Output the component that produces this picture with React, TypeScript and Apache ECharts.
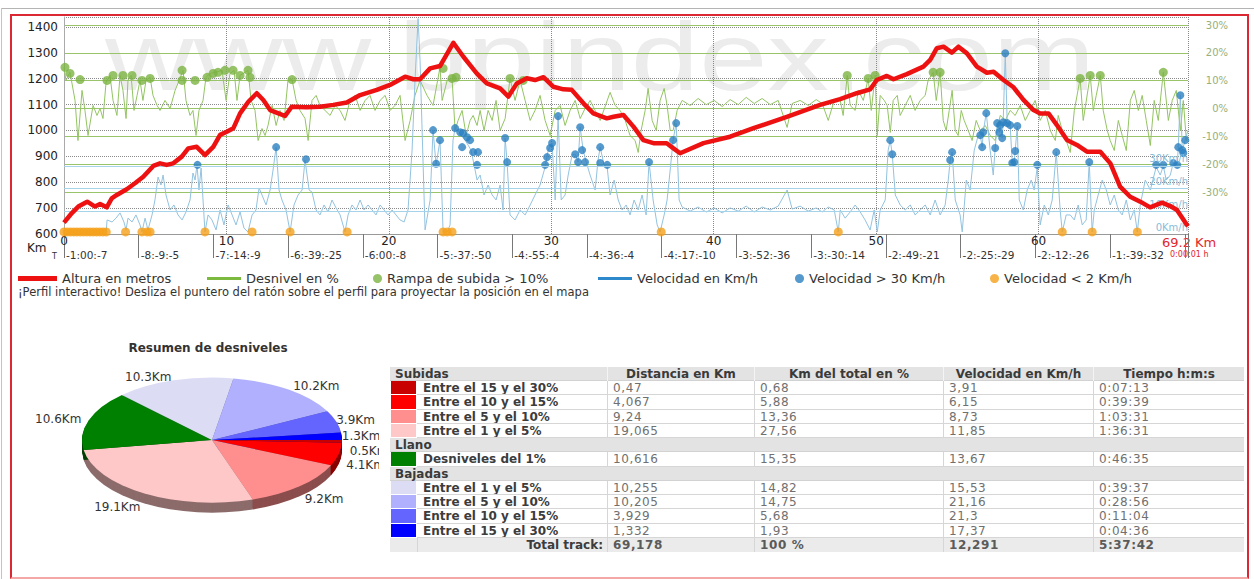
import React, { useEffect, useRef } from 'react';
import * as echarts from 'echarts';

const FONT = "'DejaVu Sans', Verdana, sans-serif";

// ---------------- profile data ----------------
// elevation [km, m]
const altitude: [number, number][] = [
  [0, 644], [0.47, 680], [0.88, 706], [1.43, 725], [1.91, 706], [2.22, 716], [2.63, 703], [2.94, 738], [3.25, 751],
  [3.86, 773], [4.37, 796], [4.88, 821], [5.5, 863], [5.91, 873], [6.32, 867], [6.73, 873], [7.25, 899], [7.65, 931],
  [8.17, 937], [8.68, 905], [9.19, 937], [9.61, 983], [10.02, 995], [10.43, 1009], [10.84, 1066], [11.35, 1111],
  [11.87, 1144], [12.27, 1118], [12.69, 1079], [13.2, 1066], [13.61, 1056], [14.02, 1092], [14.94, 1090], [15.76, 1092],
  [16.58, 1099], [17.41, 1108], [18.23, 1137], [19.26, 1157], [20.07, 1176], [21.0, 1208], [21.51, 1198], [21.92, 1198],
  [22.54, 1240], [23.15, 1249], [23.97, 1339], [24.59, 1285], [25.41, 1221], [26.03, 1182], [26.85, 1163], [27.36, 1131],
  [27.88, 1182], [28.49, 1202], [29.0, 1195], [29.52, 1206], [30.13, 1169], [30.75, 1159], [31.26, 1157], [31.98, 1105],
  [32.59, 1066], [33.42, 1047], [33.83, 1053], [34.44, 1060], [35.06, 1015], [35.67, 963], [36.29, 951], [37.11, 951],
  [37.52, 931], [37.93, 912], [39.37, 951], [41.01, 976], [42.45, 1009], [44.5, 1053], [46.55, 1099], [47.78, 1121],
  [48.81, 1144], [49.63, 1159], [50.04, 1195], [50.66, 1211], [51.07, 1198], [51.89, 1218], [52.91, 1247], [53.33, 1273],
  [53.74, 1318], [54.15, 1324], [54.66, 1301], [55.07, 1324], [55.59, 1298], [56.2, 1247], [56.82, 1223], [57.23, 1227],
  [57.84, 1195], [58.46, 1167], [59.07, 1118], [59.69, 1079], [60.1, 1066], [60.61, 1066], [61.13, 1021], [61.75, 963],
  [62.36, 944], [62.98, 918], [63.8, 918], [64.42, 873], [65.02, 783], [65.64, 744], [66.26, 725], [66.87, 703],
  [67.6, 721], [68.11, 708], [68.52, 693], [69.14, 635], [69.2, 630],
];

// grade [km, %]
const grade: [number, number][] = [
  [0, 14.8], [0.12, 10.1], [0.37, 13.0], [0.68, 2.9], [0.86, -11.5], [1.11, 6.5], [1.29, -0.7], [1.48, -9.7], [1.79, 1.1],
  [2.03, -2.5], [2.22, 0], [2.4, -3.6], [2.59, 9.4], [2.83, 11.9], [3.02, 2.9], [3.26, -2.5], [3.45, 11.9], [3.63, 6.5],
  [3.82, -3.6], [3.94, 10.1], [4.13, 11.9], [4.31, -0.7], [4.5, 4.7], [4.68, 10.1], [4.86, 2.9], [5.05, 10.1], [5.3, 11.2],
  [5.48, 4.7], [5.73, 1.1], [5.91, -0.7], [6.22, 2.9], [6.53, 0], [6.84, 6.5], [7.14, 10.8], [7.33, 13.7], [7.51, 2.9],
  [7.76, -2.5], [7.94, -0.7], [8.13, -9.7], [8.31, -0.7], [8.56, 2.9], [8.74, 11.2], [8.99, 12.6], [9.3, 13.0], [9.73, 13.7],
  [9.98, 2.9], [10.22, 12.6], [10.47, 13.7], [10.65, 2.9], [10.84, 11.9], [11.15, 13.0], [11.33, 13.7], [11.52, 2.9],
  [11.76, -0.7], [11.95, -11.5], [12.19, -7.2], [12.38, -9.7], [12.56, -6.1], [12.81, 1.1], [13.06, -6.1], [13.3, -0.7],
  [13.55, -4.3], [13.79, 10.1], [14.04, 10.4], [14.29, 2.9], [14.53, -0.7], [14.84, -3.6], [15.03, -11.5], [15.27, 2.9],
  [15.52, 4.7], [15.76, 1.1], [16.07, -0.7], [16.38, -2.5], [16.69, 1.1], [17.0, -0.7], [17.3, -4.3], [17.61, 2.9],
  [17.92, 4.7], [18.23, -0.7], [18.54, 2.9], [18.84, 4.7], [19.15, -0.7], [19.46, 2.9], [19.77, 4.7], [20.08, -0.7],
  [20.38, 1.1], [20.69, 4.7], [21.0, -11.5], [21.31, -4.3], [21.61, 4.7], [21.92, 10.1], [22.35, 4.7], [22.72, 1.1],
  [23.15, 14.8], [23.28, 2.9], [23.59, 10.1], [23.89, 10.8], [24.08, -7.9], [24.26, -4.3], [24.51, -0.7], [24.76, -9.7],
  [25.0, -4.3], [25.19, -2.5], [25.43, -6.1], [25.62, -0.7], [25.86, -7.9], [26.11, -0.7], [26.36, -4.3], [26.6, 2.9],
  [26.85, -7.9], [27.16, -3.6], [27.46, 10.8], [27.77, 2.9], [28.08, 10.1], [28.39, 2.9], [28.7, -4.3], [29.0, -0.7],
  [29.31, 4.7], [29.62, -4.3], [29.93, -9.7], [30.24, -0.7], [30.54, 1.1], [30.85, -6.1], [31.16, -0.7], [31.47, 2.9],
  [31.78, -3.6], [32.08, 0], [32.39, 2.9], [32.7, -0.7], [33.01, -4.3], [33.62, 5.8], [33.93, 1.1], [34.24, -0.7],
  [34.55, -4.3], [34.85, -9.7], [35.16, -11.5], [35.35, -15.8], [35.53, -7.9], [35.78, -0.7], [35.96, 7.2], [36.21, -4.3],
  [36.46, -7.9], [36.7, 2.9], [36.95, 7.2], [37.13, 1.1], [37.32, -7.9], [37.5, -7.9], [37.75, -0.7], [38.06, 2.9],
  [38.55, 1.1], [39.04, 3.6], [39.54, 1.4], [40.03, 2.9], [40.52, 0.7], [41.01, 3.2], [41.51, 1.4], [42.0, 4.0],
  [42.49, 1.8], [42.98, 3.6], [43.48, 1.4], [43.97, 2.9], [44.52, -6.8], [44.83, 1.8], [45.32, 2.9], [45.82, 1.1],
  [46.31, 3.2], [46.68, 1.8], [47.05, -4.3], [47.42, 2.9], [47.79, 2.9], [47.97, -2.5], [48.22, 11.9], [48.4, 1.1],
  [48.71, -0.7], [48.9, 6.5], [49.21, 2.9], [49.51, 10.8], [49.7, -0.7], [49.94, 11.9], [50.07, -9.7], [50.25, 4.7],
  [50.5, 2.9], [50.68, 1.1], [50.87, -8.6], [51.05, 2.9], [51.3, 4.7], [51.48, -2.5], [51.79, 1.1], [52.1, 4.7],
  [52.4, -0.7], [52.71, 2.9], [53.02, 4.7], [53.2, 10.1], [53.51, 13.0], [53.7, 2.9], [53.94, 13.0], [54.13, -4.3],
  [54.31, -7.9], [54.5, -0.7], [54.68, 6.5], [54.87, -7.9], [55.05, -9.7], [55.24, -0.7], [55.42, -4.3], [55.67, -7.9],
  [55.91, -11.5], [56.16, -4.3], [56.41, -7.9], [56.72, -6.1], [57.02, -9.7], [57.33, -11.5], [57.64, -2.5], [57.95, -4.3],
  [58.25, -0.7], [58.56, -2.5], [58.87, 1.1], [59.18, -4.3], [59.49, -0.7], [59.79, 2.9], [60.1, -4.3], [60.41, -0.7],
  [60.72, -7.9], [61.03, -11.5], [61.21, -2.5], [61.46, -7.9], [61.7, -11.5], [61.95, -15.8], [62.2, -0.7], [62.56, 10.8],
  [62.75, -4.3], [63.18, 11.9], [63.37, -0.7], [63.55, 4.7], [63.8, 11.9], [63.98, -0.7], [64.23, -7.9], [64.41, -11.5],
  [64.66, -15.1], [64.91, -4.3], [65.15, -9.7], [65.4, -15.1], [65.65, 2.9], [65.89, 6.5], [66.14, -0.7], [66.38, 4.7],
  [66.63, -4.3], [66.88, -13.3], [67.12, 2.9], [67.37, -4.3], [67.68, 13.0], [67.99, -4.3], [68.23, 2.9], [68.48, 6.5],
  [68.73, -7.9], [68.91, 2.9], [69.1, -11.5], [69.2, -9.7],
];

// ramps steeper than 10% [km, %]
const steepRamps: [number, number][] = [
  [0.06, 14.8], [0.37, 12.6], [0.99, 10.4], [2.65, 10.1], [3.02, 11.9], [3.63, 11.9], [4.19, 11.9], [4.8, 10.1], [5.3, 10.8],
  [7.27, 13.7], [7.27, 10.1], [8.07, 10.1], [8.81, 11.2], [9.18, 12.6], [9.48, 13.0], [9.91, 13.7], [10.41, 13.7],
  [10.84, 11.9], [11.33, 13.7], [11.45, 11.2], [14.04, 10.4], [23.34, 14.4], [23.89, 10.8], [24.14, 11.2], [27.46, 10.8],
  [28.27, 10.1], [48.22, 11.9], [49.51, 10.8], [49.94, 11.9], [53.51, 13.0], [53.94, 13.0], [62.56, 10.8], [63.18, 11.9],
  [63.8, 11.9], [67.68, 13.0],
];

// speed [km, km/h]
const speed: [number, number][] = [
  [0, 0], [2.59, 0], [2.65, 6.2], [2.96, 5.3], [3.2, 7.0], [3.45, 9.3], [3.69, 5.3], [3.82, 1.8], [3.94, 7.0], [4.19, 5.3],
  [4.43, 8.4], [4.68, 4.0], [4.8, 0.9], [4.99, 7.0], [5.17, 1.8], [5.42, 8.4], [5.6, 15.0], [5.79, 25.1], [5.97, 21.6],
  [6.1, 26.0], [6.28, 17.2], [6.53, 10.6], [6.77, 12.8], [7.02, 8.4], [7.27, 6.2], [7.51, 9.7], [7.76, 15.0], [7.94, 26.9],
  [8.07, 23.8], [8.19, 30.5], [8.31, 19.4], [8.44, 29.1], [8.56, 15.0], [8.68, 0.9], [8.87, 8.4], [9.11, 6.2], [9.36, 1.8],
  [9.61, 10.6], [9.85, 4.0], [10.1, 12.8], [10.35, 8.4], [10.59, 4.0], [10.84, 9.7], [11.08, 2.6], [11.33, 0.9], [11.58, 8.4],
  [11.82, 10.6], [12.01, 20.3], [12.19, 17.2], [12.44, 12.8], [12.69, 19.4], [12.87, 28.2], [13.06, 38.3], [13.24, 19.4],
  [13.42, 15.0], [13.67, 10.6], [13.92, 0.9], [14.16, 12.8], [14.41, 17.2], [14.66, 19.4], [14.84, 32.6], [15.09, 19.4],
  [15.27, 18.5], [15.52, 10.6], [15.76, 8.4], [16.01, 12.8], [16.26, 9.7], [16.5, 15.0], [16.75, 11.5], [17.0, 8.4],
  [17.3, 0.9], [17.49, 8.4], [17.73, 12.8], [17.98, 10.6], [18.23, 15.0], [18.47, 10.6], [18.72, 12.8], [18.97, 10.6],
  [19.21, 8.4], [19.46, 12.8], [19.71, 10.6], [19.95, 8.4], [20.2, 10.6], [20.44, 8.4], [20.69, 6.2], [20.94, 5.3],
  [21.18, 10.6], [21.43, 37.0], [21.61, 67.8], [21.8, 95.0], [21.92, 76.6], [22.23, 1.8], [22.54, 15.0], [22.72, 45.8],
  [22.91, 30.4], [23.15, 41.4], [23.34, 0.9], [23.59, 0.9], [23.77, 4.0], [23.95, 41.4], [24.08, 46.7], [24.26, 45.8],
  [24.45, 43.6], [24.69, 41.4], [24.88, 39.2], [25.06, 37.0], [25.25, 30.4], [25.43, 23.8], [25.62, 26.0], [25.86, 17.2],
  [26.11, 21.6], [26.36, 17.2], [26.6, 15.0], [26.85, 21.6], [27.03, 10.6], [27.16, 42.3], [27.28, 31.7], [27.46, 8.4],
  [27.77, 6.2], [28.08, 10.6], [28.39, 8.4], [28.7, 12.8], [29.0, 17.2], [29.31, 21.6], [29.62, 29.5], [29.81, 37.0],
  [30.05, 40.1], [30.24, 15.0], [30.42, 52.0], [30.61, 15.0], [30.85, 17.2], [31.04, 26.0], [31.28, 34.8], [31.47, 35.2],
  [31.65, 31.7], [31.78, 47.1], [31.96, 37.0], [32.15, 31.7], [32.39, 26.0], [32.7, 19.4], [32.88, 32.6], [33.01, 38.3],
  [33.25, 30.4], [33.44, 29.5], [33.62, 17.2], [33.87, 23.8], [34.12, 15.0], [34.36, 10.6], [34.61, 12.8], [34.85, 8.4],
  [35.1, 15.0], [35.35, 10.6], [35.59, 17.2], [35.84, 8.4], [36.02, 31.7], [36.27, 15.0], [36.52, 4.0], [36.7, 0.9],
  [36.95, 8.4], [37.13, 15.0], [37.32, 28.2], [37.5, 41.4], [37.69, 48.9], [37.87, 15.0], [38.06, 11.9], [38.55, 10.1],
  [39.04, 11.9], [39.54, 9.7], [40.03, 11.5], [40.52, 9.3], [41.01, 11.5], [41.51, 10.1], [42.0, 12.3], [42.49, 9.7],
  [42.98, 11.9], [43.48, 10.6], [43.97, 12.3], [44.52, 19.4], [44.83, 11.0], [45.32, 12.3], [45.82, 10.1], [46.31, 11.5],
  [46.68, 9.7], [47.05, 11.9], [47.42, 10.6], [47.67, 0.9], [47.79, 10.6], [48.09, 7.0], [48.4, 9.7], [48.71, 12.8],
  [49.02, 9.7], [49.32, 6.2], [49.63, 1.8], [49.88, 10.6], [50.07, 0.9], [50.25, 10.6], [50.56, 15.0], [50.74, 37.0],
  [50.87, 41.4], [50.99, 35.2], [51.18, 17.2], [51.48, 12.8], [51.79, 10.6], [52.1, 12.8], [52.4, 8.4], [52.71, 10.6],
  [53.02, 12.8], [53.33, 8.4], [53.63, 15.0], [53.94, 8.4], [54.25, 12.8], [54.44, 23.8], [54.56, 32.6], [54.68, 36.1],
  [54.87, 15.0], [55.17, 8.4], [55.3, 0.9], [55.55, 23.8], [55.79, 19.4], [56.04, 37.0], [56.29, 43.6], [56.41, 43.6],
  [56.53, 38.3], [56.59, 44.9], [56.78, 53.3], [57.02, 37.0], [57.21, 26.0], [57.33, 37.9], [57.45, 48.9], [57.58, 44.9],
  [57.64, 48.0], [57.76, 42.3], [57.82, 49.3], [57.95, 79.7], [58.07, 48.9], [58.25, 48.0], [58.38, 31.3], [58.5, 31.7],
  [58.56, 36.6], [58.69, 47.6], [58.81, 15.0], [59.06, 10.6], [59.3, 19.4], [59.55, 23.8], [59.73, 19.4], [59.92, 29.5],
  [60.1, 4.0], [60.35, 12.8], [60.6, 8.4], [60.84, 15.0], [61.09, 36.1], [61.33, 10.6], [61.46, 0.9], [61.7, 8.4],
  [61.95, 8.4], [62.2, 6.2], [62.44, 12.8], [62.69, 4.0], [62.93, 6.2], [63.12, 31.7], [63.3, 0.9], [63.43, 10.6],
  [63.67, 17.2], [63.92, 23.8], [64.17, 19.4], [64.41, 12.8], [64.66, 17.2], [64.91, 10.6], [65.15, 8.4], [65.4, 15.0],
  [65.65, 6.2], [65.89, 10.6], [66.08, 0.9], [66.26, 12.8], [66.57, 23.8], [66.88, 19.4], [67.24, 29.5], [67.49, 26.0],
  [67.68, 30.0], [67.86, 23.8], [68.11, 26.0], [68.29, 31.3], [68.54, 30.4], [68.6, 38.3], [68.73, 61.2], [68.85, 37.0],
  [69.03, 41.4], [69.2, 45.8],
];

// speed above 30 km/h [km, km/h]
const fastPoints: [number, number][] = [
  [8.22, 30.5], [13.06, 38.3], [14.9, 33.0], [22.72, 45.8], [22.91, 31.0], [23.15, 41.4], [24.08, 46.7], [24.39, 44.9],
  [24.57, 44.5], [24.82, 42.7], [25.0, 41.4], [24.51, 38.3], [25.19, 36.1], [25.49, 36.1], [25.43, 30.5], [27.16, 42.3],
  [27.28, 31.7], [29.62, 30.5], [29.74, 33.9], [29.93, 37.9], [30.05, 40.1], [30.42, 52.0], [31.47, 35.2], [31.65, 31.7],
  [31.78, 47.1], [31.9, 37.0], [32.08, 31.7], [33.01, 38.3], [33.01, 31.3], [33.44, 30.5], [36.02, 31.7], [37.5, 41.4],
  [37.69, 48.9], [50.87, 41.4], [50.99, 35.2], [54.56, 32.6], [54.68, 36.1], [56.41, 43.6], [56.53, 38.3], [56.59, 44.9],
  [56.78, 53.3], [57.33, 37.9], [57.45, 48.9], [57.58, 44.9], [57.64, 48.0], [57.76, 42.3], [57.82, 49.3], [57.95, 79.7],
  [58.07, 48.9], [58.25, 48.0], [58.38, 31.3], [58.5, 31.7], [58.56, 36.6], [58.69, 47.6], [59.92, 30.5], [61.09, 36.1],
  [63.12, 31.7], [67.24, 30.5], [67.68, 30.5], [68.29, 31.3], [68.54, 30.5], [68.6, 38.3], [68.73, 61.2], [68.85, 37.0],
  [68.91, 35.7], [69.03, 41.4],
];

// speed below 2 km/h [km, km/h]
const slowPoints: [number, number][] = [
  [0, 0.9], [0.2, 0.9], [0.4, 0.9], [0.6, 0.9], [0.8, 0.9], [1.0, 0.9], [1.2, 0.9], [1.4, 0.9], [1.6, 0.9], [1.8, 0.9],
  [2.0, 0.9], [2.2, 0.9], [2.4, 0.9], [2.6, 0.9], [3.79, 0.9], [4.8, 0.9], [5.11, 0.9], [5.3, 0.9], [8.68, 0.9],
  [11.58, 0.9], [13.92, 0.9], [17.43, 0.9], [23.34, 0.9], [23.59, 0.9], [23.89, 0.9], [36.77, 0.9], [47.67, 0.9],
  [61.46, 0.9], [63.3, 0.9], [66.08, 0.9],
];

// time labels under the distance axis
const timeLabels = [
  '-1:00:-7', '-8:-9:-5', '-7:-14:-9', '-6:-39:-25', '-6:00:-8', '-5:-37:-50', '-4:-55:-4', '-4:-36:-4',
  '-4:-17:-10', '-3:-52:-36', '-3:-30:-14', '-2:-49:-21', '-2:-25:-29', '-2:-12:-26', '-1:-39:-32',
];
const trackLength = 69.2;

// ---------------- summary data ----------------
const climbRanges = ['Entre el 15 y el 30%', 'Entre el 10 y el 15%', 'Entre el 5 y el 10%', 'Entre el 1 y el 5%'];
const climbKm = [0.47, 4.067, 9.24, 19.065];
const climbPct = [0.68, 5.88, 13.36, 27.56];
const climbSpeed = [3.91, 6.15, 8.73, 11.85];
const climbTime = ['0:07:13', '0:39:39', '1:03:31', '1:36:31'];

const flatLabel = 'Desniveles del 1%';
const flatKm = 10.616;
const flatPct = 15.35;
const flatSpeed = 13.67;
const flatTime = '0:46:35';

const descentRanges = ['Entre el 1 y el 5%', 'Entre el 5 y el 10%', 'Entre el 10 y el 15%', 'Entre el 15 y el 30%'];
const descentKm = [10.255, 10.205, 3.929, 1.332];
const descentPct = [14.82, 14.75, 5.68, 1.93];
const descentSpeed = [15.53, 21.16, 21.3, 17.37];
const descentTime = ['0:39:37', '0:28:56', '0:11:04', '0:04:36'];

const totalKm = 69.178;
const totalPct = '100 %';
const totalSpeed = 12.291;
const totalTime = '5:37:42';

// colours (style)
const climbColors = ['#c80000', '#ff0000', '#ff8f8f', '#ffc8c8'];
const flatColor = '#008000';
const descentColors = ['#dcdcf5', '#b0b0ff', '#6464ff', '#0000ff'];
const rimColors = ['#6e0000', '#8a0000', '#8c4d4d', '#8c6b6b', '#004000', '#74748a', '#5c5c90', '#34348a', '#00007a'];

function buildOption(): any {
  const pieKm = [...climbKm, flatKm, ...descentKm];
  const pieColors = [...climbColors, flatColor, ...descentColors];
  const pieTotal = pieKm.reduce((s, v) => s + v, 0);
  const pieStart: number[] = [];
  pieKm.reduce((acc, v) => {
    pieStart.push(acc);
    return acc + v;
  }, 0);
  const P = { cx: 212, cy: 440, rx: 130, ry: 62.5, depth: 10 };
  const sy = P.ry / P.rx;
  const TAU = Math.PI * 2;
  const sector = (a0: number, a1: number, dy: number, fill: string) => ({
    type: 'sector',
    x: 0,
    y: P.cy * (1 - sy) + dy,
    scaleY: sy,
    shape: { cx: P.cx, cy: P.cy, r: P.rx, r0: 0, startAngle: a0, endAngle: a1, clockwise: true },
    style: { fill },
  });

  const legendItem = (left: number, name: string, icon: string, w: number, h: number, color: string) => ({
    left,
    top: 272,
    padding: 0,
    itemGap: 0,
    itemWidth: w,
    itemHeight: h,
    selectedMode: false,
    data: [{ name, icon, itemStyle: { color }, lineStyle: { color, width: 0 } }],
    textStyle: { fontSize: 13, color: '#333', fontFamily: FONT },
  });

  return {
    animation: false,
    textStyle: { fontFamily: FONT },
    legend: [
      legendItem(18, 'Altura en metros', 'rect', 39, 5, '#ee1111'),
      legendItem(207, 'Desnivel en %', 'rect', 34, 3, '#7cba3f'),
      legendItem(373, 'Rampa de subida > 10%', 'circle', 9, 9, '#7cb342'),
      legendItem(598, 'Velocidad en Km/h', 'rect', 34, 3, '#2d88cc'),
      legendItem(795, 'Velocidad > 30 Km/h', 'circle', 9, 9, '#2a7fc0'),
      legendItem(990, 'Velocidad < 2 Km/h', 'circle', 9, 9, '#f5a01a'),
    ],
    grid: [
      { left: 64, right: 66, top: 17, bottom: 345, outerBoundsMode: 'none' },
      { left: 64, right: 66, top: 25, bottom: 387, outerBoundsMode: 'none' },
    ],
    xAxis: [
      {
        gridIndex: 0,
        type: 'value',
        min: 0,
        max: trackLength,
        interval: 10,
        axisLine: { show: true, onZero: false, lineStyle: { color: '#999' } },
        axisTick: { show: false },
        axisLabel: { color: '#222', fontSize: 12, margin: 1, showMaxLabel: false, fontFamily: FONT },
        splitLine: { show: true, lineStyle: { color: '#888', type: 'dotted' } },
      },
      {
        gridIndex: 0,
        type: 'value',
        position: 'bottom',
        min: 0,
        max: trackLength,
        interval: 4.6,
        axisLine: { show: false, onZero: false },
        axisTick: { show: true, length: 24, lineStyle: { color: '#777' } },
        axisLabel: {
          formatter: (_v: number, i: number) => timeLabels[i] ?? '',
          align: 'left',
          margin: 15,
          fontSize: 10.5,
          color: '#333',
          fontFamily: FONT,
          padding: [0, 0, 0, 2],
        },
        splitLine: { show: false },
      },
      { gridIndex: 1, type: 'value', min: 0, max: trackLength, show: false, axisLine: { onZero: false } },
    ],
    yAxis: [
      {
        gridIndex: 0,
        type: 'value',
        position: 'left',
        min: 600,
        max: 1438.6,
        interval: 100,
        axisLine: { show: true, onZero: false, lineStyle: { color: '#aaa' } },
        axisTick: { show: false },
        axisLabel: {
          color: '#222',
          fontSize: 12,
          margin: 6,
          showMaxLabel: false,
          fontFamily: FONT,
          formatter: (v: number) => String(v),
        },
        splitLine: { show: true, lineStyle: { color: '#8a8a8a', type: 'dotted' } },
      },
      {
        gridIndex: 0,
        type: 'value',
        position: 'right',
        z: 4,
        min: 0,
        max: 95.7,
        interval: 10,
        axisLine: { show: false, onZero: false },
        axisTick: { show: false },
        splitLine: { show: false },
        axisLabel: {
          inside: true,
          margin: 0,
          formatter: (v: number) => (v <= 30 ? `${v}Km/h` : ''),
          color: '#86bddb',
          fontSize: 10,
          verticalAlign: 'bottom',
          padding: [0, 0, 2, 0],
          fontFamily: FONT,
        },
      },
      {
        gridIndex: 1,
        type: 'value',
        position: 'right',
        min: -30,
        max: 30,
        interval: 10,
        axisLine: { show: false, onZero: false },
        axisTick: { show: false },
        splitLine: { show: true, lineStyle: { color: '#9ac46a', width: 1 } },
        axisLabel: { formatter: '{value}%', color: '#98b07a', fontSize: 10, margin: 40, align: 'right', fontFamily: FONT },
      },
    ],
    graphic: {
      elements: [
        {
          type: 'text',
          x: 105,
          y: 56,
          scaleX: 1.28,
          z: -10,
          silent: true,
          style: {
            text: 'www.bpindex.com',
            fontSize: 96,
            fontFamily: "'Liberation Sans', Arial, sans-serif",
            fill: '#ececec',
            verticalAlign: 'middle',
          },
        },
        { type: 'text', x: 27, y: 248, style: { text: 'Km', fontSize: 12, fontFamily: FONT, fill: '#222', verticalAlign: 'middle' } },
        { type: 'text', x: 52, y: 256, style: { text: 'T', fontSize: 8, fontFamily: FONT, fill: '#333', verticalAlign: 'middle' } },
        { type: 'text', x: 1162, y: 242, style: { text: '69.2 Km', fontSize: 13, fontFamily: FONT, fill: '#e3262d', verticalAlign: 'middle' } },
        { type: 'text', x: 1170, y: 254, style: { text: '0:00:01 h', fontSize: 8, fontFamily: FONT, fill: '#e3262d', verticalAlign: 'middle' } },
        {
          type: 'text',
          x: 18,
          y: 292,
          style: {
            text: '¡Perfil interactivo! Desliza el puntero del ratón sobre el perfil para proyectar la posición en el mapa',
            fontSize: 11.5,
            fontFamily: FONT,
            fill: '#333',
            verticalAlign: 'middle',
          },
        },
        {
          type: 'text',
          x: 208,
          y: 348,
          style: {
            text: 'Resumen de desniveles',
            fontSize: 12,
            fontWeight: 'bold',
            fontFamily: FONT,
            fill: '#333',
            align: 'center',
            verticalAlign: 'middle',
          },
        },
      ],
    },
    series: [
      {
        name: 'Desnivel en %',
        type: 'line',
        xAxisIndex: 2,
        yAxisIndex: 2,
        data: grade,
        symbol: 'none',
        lineStyle: { width: 1, color: '#93c462' },
        itemStyle: { color: '#7cba3f' },
        z: 1,
        silent: true,
      },
      {
        name: 'Velocidad en Km/h',
        type: 'line',
        xAxisIndex: 0,
        yAxisIndex: 1,
        data: speed,
        symbol: 'none',
        clip: false,
        lineStyle: { width: 1, color: '#93c3e0' },
        itemStyle: { color: '#2d88cc' },
        z: 1,
        silent: true,
        markLine: {
          silent: true,
          symbol: ['none', 'none'],
          label: { show: false },
          lineStyle: { color: '#a6d3ea', type: 'solid', width: 1 },
          data: [{ yAxis: 10 }, { yAxis: 20 }, { yAxis: 30 }],
        },
      },
      {
        name: 'Rampa de subida > 10%',
        type: 'scatter',
        xAxisIndex: 2,
        yAxisIndex: 2,
        data: steepRamps,
        symbolSize: 9,
        itemStyle: { color: '#7cb342' },
        z: 3,
      },
      {
        name: 'Velocidad > 30 Km/h',
        type: 'scatter',
        xAxisIndex: 0,
        yAxisIndex: 1,
        data: fastPoints,
        symbolSize: 8,
        itemStyle: { color: '#2a7fc0' },
        z: 3,
      },
      {
        name: 'Velocidad < 2 Km/h',
        type: 'scatter',
        xAxisIndex: 0,
        yAxisIndex: 1,
        data: slowPoints,
        symbolSize: 9,
        itemStyle: { color: '#f5a01a' },
        z: 3,
      },
      {
        name: 'Altura en metros',
        type: 'line',
        xAxisIndex: 0,
        yAxisIndex: 0,
        data: altitude,
        symbol: 'none',
        lineStyle: { width: 4.5, color: '#ee1111', join: 'round' },
        itemStyle: { color: '#ee1111' },
        z: 5,
        silent: true,
      },
      {
        name: 'pieRim',
        type: 'custom',
        coordinateSystem: 'none',
        silent: true,
        z: 1,
        data: pieKm.map((v) => [v]),
        renderItem: (params: any, api: any) => {
          const i = params.dataIndex;
          const a0 = (pieStart[i] / pieTotal) * TAU;
          const a1 = a0 + (api.value(0) / pieTotal) * TAU;
          const children: any[] = [];
          for (let d = P.depth; d >= 1; d -= 1) children.push(sector(a0, a1, d, rimColors[i]));
          return { type: 'group', children };
        },
      },
      {
        name: 'pieTop',
        type: 'custom',
        coordinateSystem: 'none',
        silent: true,
        z: 2,
        data: pieKm.map((v) => [v]),
        renderItem: (params: any, api: any) => {
          const i = params.dataIndex;
          const v = api.value(0);
          const a0 = (pieStart[i] / pieTotal) * TAU;
          const a1 = a0 + (v / pieTotal) * TAU;
          const mid = (a0 + a1) / 2;
          const c = Math.cos(mid);
          const s = Math.sin(mid);
          const k = s < 0 && c > 0.8 ? 1.0 : 1.06;
          const lx = P.cx + P.rx * k * c;
          const ly = P.cy + P.ry * 1.06 * s + (s > 0 ? P.depth : 0);
          return {
            type: 'group',
            children: [
              sector(a0, a1, 0, pieColors[i]),
              {
                type: 'group',
                clipPath: { type: 'rect', shape: { x: 0, y: 300, width: 379, height: 279 } },
                children: [
                  {
                    type: 'text',
                    x: lx,
                    y: ly,
                    style: {
                      text: `${v.toFixed(1)}Km`,
                      fill: '#333',
                      fontSize: 12,
                      fontFamily: FONT,
                      align: c < 0 ? 'right' : 'left',
                      verticalAlign: 'middle',
                    },
                  },
                ],
              },
            ],
          };
        },
      },
    ],
  };
}

// ---------------- table ----------------
const COLS = [390, 417, 607, 754, 943, 1093, 1244];
const T_TOP = 367;
const ROW_H = 14.23;
const fmt = (v: number) => String(v).replace('.', ',');

function SummaryTable() {
  type Row =
    | { kind: 'head'; title: string }
    | { kind: 'section'; title: string }
    | { kind: 'data'; color: string; label: string; km: number; pct: number; speed: number; time: string }
    | { kind: 'total' };
  const rows: Row[] = [
    { kind: 'head', title: 'Subidas' },
    ...climbRanges.map((label, i) => ({
      kind: 'data' as const,
      color: climbColors[i],
      label,
      km: climbKm[i],
      pct: climbPct[i],
      speed: climbSpeed[i],
      time: climbTime[i],
    })),
    { kind: 'section', title: 'Llano' },
    { kind: 'data', color: flatColor, label: flatLabel, km: flatKm, pct: flatPct, speed: flatSpeed, time: flatTime },
    { kind: 'section', title: 'Bajadas' },
    ...descentRanges.map((label, i) => ({
      kind: 'data' as const,
      color: descentColors[i],
      label,
      km: descentKm[i],
      pct: descentPct[i],
      speed: descentSpeed[i],
      time: descentTime[i],
    })),
    { kind: 'total' },
  ];
  const headers = ['Distancia en Km', 'Km del total en %', 'Velocidad en Km/h', 'Tiempo h:m:s'];
  const base: React.CSSProperties = {
    position: 'absolute',
    boxSizing: 'border-box',
    height: ROW_H,
    lineHeight: `${ROW_H}px`,
    whiteSpace: 'nowrap',
    overflow: 'hidden',
    fontSize: 12,
    fontFamily: FONT,
  };
  const W = COLS[6] - COLS[0];
  const els: React.ReactNode[] = [];
  rows.forEach((row, r) => {
    const top = T_TOP + r * ROW_H;
    if (row.kind === 'head' || row.kind === 'section') {
      els.push(
        <div key={`bg${r}`} style={{ ...base, left: COLS[0], top, width: W, background: '#e3e3e3', borderBottom: '1px solid #d2d2d2' }} />,
      );
      els.push(
        <div key={`t${r}`} style={{ ...base, left: COLS[0] + 5, top, width: 200, fontWeight: 'bold', color: '#3a3a3a' }}>
          {row.title}
        </div>,
      );
      if (row.kind === 'head') {
        headers.forEach((h, c) => {
          els.push(
            <div
              key={`h${c}`}
              style={{
                ...base,
                left: COLS[c + 2],
                top,
                width: COLS[c + 3] - COLS[c + 2],
                textAlign: 'center',
                fontWeight: 'bold',
                color: '#3a3a3a',
                borderLeft: '1px solid #f4f4f4',
              }}
            >
              {h}
            </div>,
          );
        });
      }
    } else if (row.kind === 'data') {
      els.push(
        <div key={`sw${r}`} style={{ position: 'absolute', left: COLS[0] + 1, top, width: COLS[1] - COLS[0] - 2, height: ROW_H - 1, background: row.color }} />,
      );
      els.push(
        <div
          key={`l${r}`}
          style={{ ...base, left: COLS[1], top, width: COLS[2] - COLS[1], paddingLeft: 6, fontWeight: 'bold', color: '#3c3c3c', borderBottom: '1px solid #d6d6d6' }}
        >
          {row.label}
        </div>,
      );
      [fmt(row.km), fmt(row.pct), fmt(row.speed), row.time].forEach((t, c) => {
        els.push(
          <div
            key={`v${r}-${c}`}
            style={{
              ...base,
              left: COLS[c + 2],
              top,
              width: COLS[c + 3] - COLS[c + 2],
              paddingLeft: 5,
              color: '#707070',
              letterSpacing: 0.6,
              borderLeft: '1px solid #d6d6d6',
              borderBottom: '1px solid #d6d6d6',
            }}
          >
            {t}
          </div>,
        );
      });
    } else {
      els.push(<div key={`bg${r}`} style={{ ...base, left: COLS[0], top, width: W, background: '#ebebeb' }} />);
      els.push(
        <div key={`tl${r}`} style={{ ...base, left: COLS[1], top, width: COLS[2] - COLS[1] - 4, textAlign: 'right', fontWeight: 'bold', color: '#3c3c3c', borderLeft: '1px solid #d6d6d6' }}>
          Total track:
        </div>,
      );
      [fmt(totalKm), totalPct, fmt(totalSpeed), totalTime].forEach((t, c) => {
        els.push(
          <div
            key={`tv${c}`}
            style={{
              ...base,
              left: COLS[c + 2],
              top,
              width: COLS[c + 3] - COLS[c + 2],
              paddingLeft: 5,
              fontWeight: 'bold',
              color: '#5a5a5a',
              letterSpacing: 0.6,
              borderLeft: '1px solid #d6d6d6',
            }}
          >
            {t}
          </div>,
        );
      });
    }
  });
  return <>{els}</>;
}

export default function App() {
  const ref = useRef<HTMLDivElement>(null);
  useEffect(() => {
    if (!ref.current) return;
    const chart = echarts.init(ref.current, null, { renderer: 'svg' });
    chart.setOption(buildOption());
    return () => chart.dispose();
  }, []);
  return (
    <div style={{ position: 'absolute', left: 0, top: 0, width: 1254, height: 579, background: '#fff', overflow: 'hidden', fontFamily: FONT }}>
      <div style={{ position: 'absolute', left: 1, top: 8, width: 1253, height: 1, background: '#b4b4b4' }} />
      <div style={{ position: 'absolute', left: 1, top: 8, width: 1, height: 571, background: '#c4c4c4' }} />
      <div
        style={{
          position: 'absolute',
          left: 10,
          top: 14,
          width: 1239,
          height: 565,
          boxSizing: 'border-box',
          borderTop: '2px solid #dc2833',
          borderLeft: '2px solid #dc2833',
          borderRight: '2px solid #dc2833',
          borderBottom: '2px solid #f3a7a7',
        }}
      />
      <div ref={ref} style={{ position: 'absolute', left: 0, top: 0, width: 1254, height: 579 }} />
      <SummaryTable />
    </div>
  );
}
